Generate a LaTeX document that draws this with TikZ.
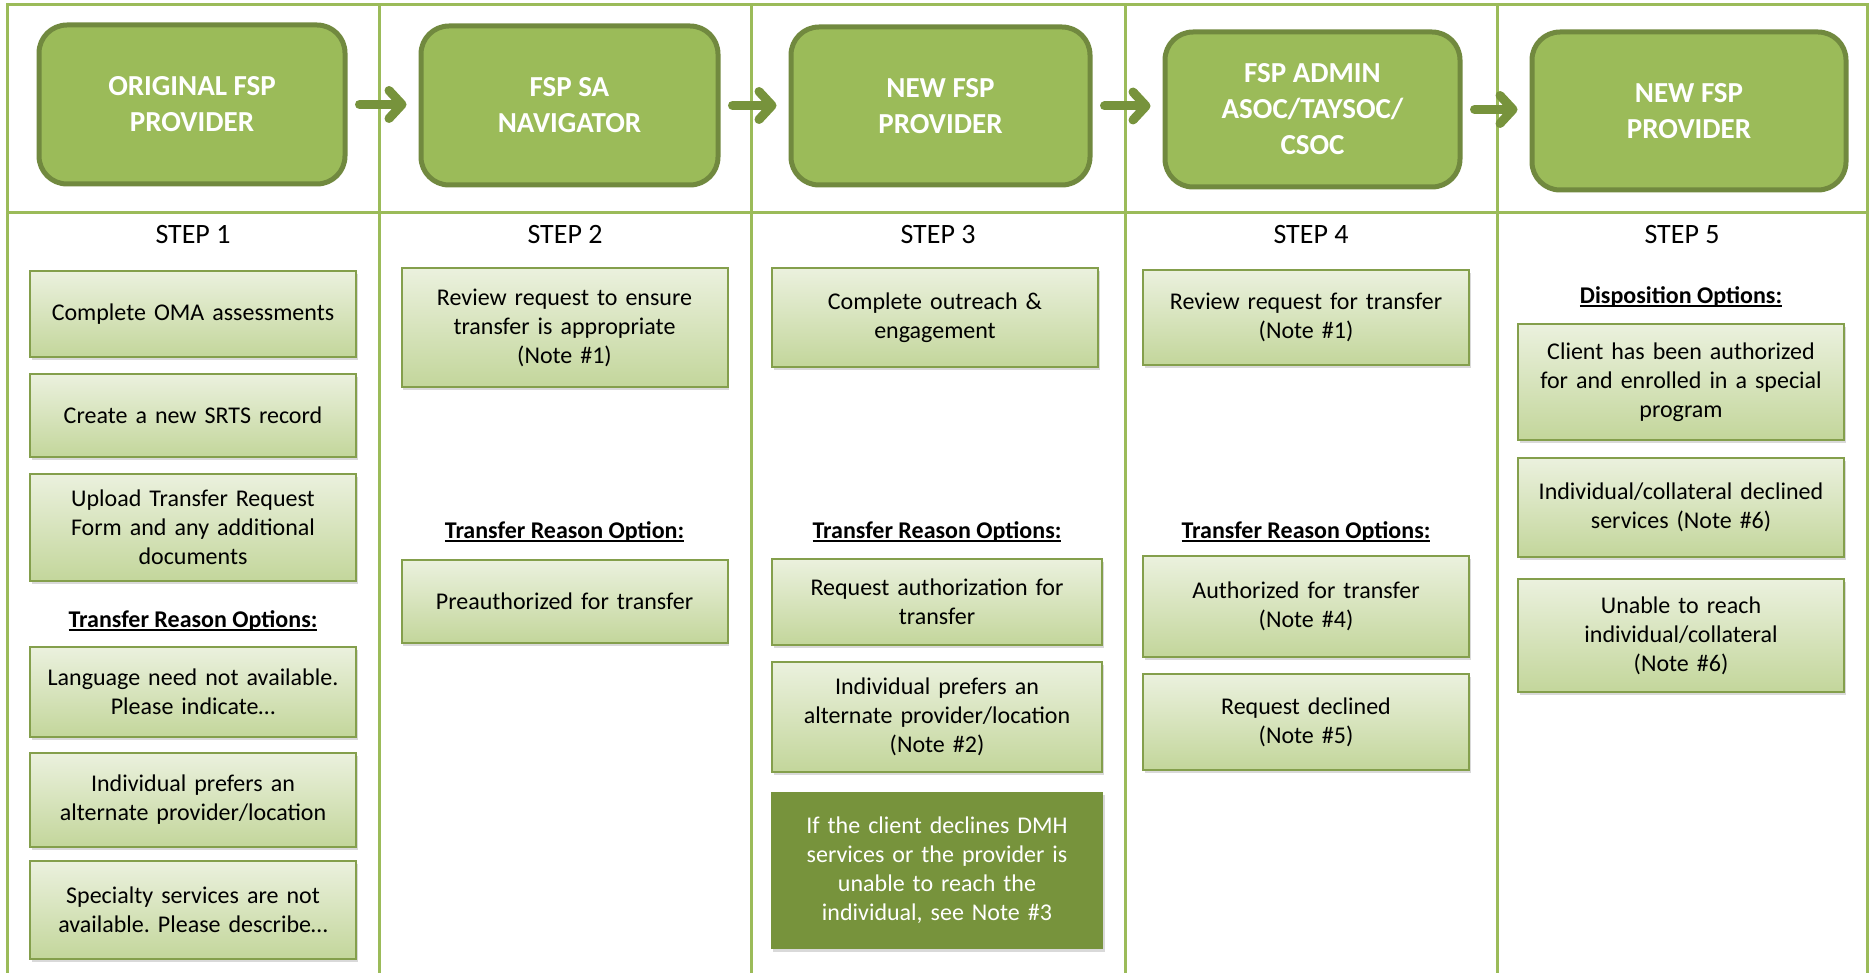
\documentclass[tikz,border=0pt]{standalone}
\usepackage{fontspec}
\setmainfont{Carlito}
\usetikzlibrary{arrows.meta,shadows}
\definecolor{fspgreen}{HTML}{9BBB59}
\definecolor{fspdark}{HTML}{77933C}
\definecolor{fspedge}{HTML}{71893F}
\definecolor{fsppale}{HTML}{EBF1DE}
\definecolor{fsplight}{HTML}{C3D69B}
\newcommand{\optul}[1]{\setbox0\hbox{#1}\rlap{\rule[-1.6pt]{\wd0}{0.8pt}}\box0}
\frenchspacing

\begin{document}
\begin{tikzpicture}[x=0.5pt, y=-0.5pt,
  gridline/.style={draw=fspgreen, line width=1.5pt},
  hdrbox/.style={draw=fspedge, line width=2.5pt, fill=fspgreen, rounded corners=14pt, text=white, align=center, font=\fontsize{14.5}{18}\selectfont\bfseries},
  optbox/.style={draw=fspgreen!85!black, line width=1pt, top color=fsppale, bottom color=fsplight, minimum width=163pt, text width=152pt, align=center, font=\fontsize{12}{14.5}\selectfont, drop shadow={shadow xshift=0.8pt, shadow yshift=-1.5pt, opacity=0.3}},
  notebox/.style={fill=fspdark, text=white, minimum width=166pt, text width=152pt, align=center, font=\fontsize{12}{14.5}\selectfont, drop shadow={shadow xshift=0.8pt, shadow yshift=-1.5pt, opacity=0.3}},
  steplabel/.style={font=\fontsize{14}{16}\selectfont},
  optheading/.style={font=\fontsize{12}{14}\selectfont\bfseries},
  flowarrow/.style={draw=fspdark, line width=4.5pt, line cap=round, -{Straight Barb[length=6.5pt, width=14pt, round]}, shorten <=6pt, shorten >=6pt}]
\useasboundingbox (0,0) rectangle (1870,973);

% table
\draw[gridline] (7,973) -- (7,5) -- (1867,5) -- (1867,973);
\draw[gridline] (7,213) -- (1867,213);
\foreach \x in {379,751,1125,1497}
  \draw[gridline] (\x,5) -- (\x,973);

% header boxes
\node[hdrbox, minimum width=153pt, minimum height=79.5pt] (h1) at (192,104.5) {ORIGINAL FSP\\PROVIDER};
\node[hdrbox, minimum width=148.5pt, minimum height=79.5pt] (h2) at (569.5,105.5) {FSP SA\\NAVIGATOR};
\node[hdrbox, minimum width=149.5pt, minimum height=79pt] (h3) at (940.5,106) {NEW FSP\\PROVIDER};
\node[hdrbox, minimum width=147.5pt, minimum height=77.5pt] (h4) at (1312.5,109.5) {FSP ADMIN\\ASOC/TAYSOC/\\CSOC};
\node[hdrbox, minimum width=157pt, minimum height=79pt] (h5) at (1689,111) {NEW FSP\\PROVIDER};

\draw[flowarrow] (h1.east) -- (h1.east -| h2.west);
\draw[flowarrow] (h2.east) -- (h2.east -| h3.west);
\draw[flowarrow] (h3.east) -- (h3.east -| h4.west);
\draw[flowarrow] (h4.east) -- (h4.east -| h5.west);

% step labels
\node[steplabel] (s1) at (193,235) {STEP 1};
\node[steplabel] (s2) at (565,235) {STEP 2};
\node[steplabel] (s3) at (938,235) {STEP 3};
\node[steplabel] (s4) at (1311,235) {STEP 4};
\node[steplabel] (s5) at (1682,235) {STEP 5};

% step 1
\node[optbox, minimum height=43pt] (a1) at (193,314) {Complete OMA assessments};
\node[optbox, minimum height=41.5pt] (a2) at (193,415.5) {Create a new SRTS record};
\node[optbox, minimum height=53.5pt] (a3) at (193,527.5) {Upload Transfer Request\\Form and any additional\\documents};
\node[optheading] (ra) at (193,621) {\optul{Transfer Reason Options:}};
\node[optbox, minimum height=45pt] (a4) at (193,692) {Language need not available.\\Please indicate\ldots};
\node[optbox, minimum height=47pt] (a5) at (193,800) {Individual prefers an\\alternate provider/location};
\node[optbox, minimum height=49pt] (a6) at (193,910) {Specialty services are not\\available. Please describe\ldots};

% step 2
\node[optbox, minimum height=59.5pt] (b1) at (564.5,327.5) {Review request to ensure\\transfer is appropriate\\(Note \#1)};
\node[optheading] (rb) at (564.5,532) {\optul{Transfer Reason Option:}};
\node[optbox, minimum height=41.5pt] (b2) at (564.5,601.5) {Preauthorized for transfer};

% step 3
\node[optbox, minimum height=49.5pt] (c1) at (935,317.5) {Complete outreach \&\\engagement};
\node[optheading] (rc) at (937,532) {\optul{Transfer Reason Options:}};
\node[optbox, minimum width=165pt, minimum height=43pt] (c2) at (937,602) {Request authorization for\\transfer};
\node[optbox, minimum width=165pt, minimum height=55pt] (c3) at (937,717) {Individual prefers an\\alternate provider/location\\(Note \#2)};
\node[notebox, minimum height=78.5pt] (c4) at (937,870.5) {If the client declines DMH\\services or the provider is\\unable to reach the\\individual, see Note \#3};

% step 4
\node[optbox, minimum height=47.5pt] (d1) at (1306,317.5) {Review request for transfer\\(Note \#1)};
\node[optheading] (rd) at (1306,532) {\optul{Transfer Reason Options:}};
\node[optbox, minimum height=50.5pt] (d2) at (1306,606.5) {Authorized for transfer\\(Note \#4)};
\node[optbox, minimum height=48pt] (d3) at (1306,722) {Request declined\\(Note \#5)};

% step 5
\node[optheading] (re) at (1681,297) {\optul{Disposition Options:}};
\node[optbox, minimum height=58pt] (e1) at (1681,382) {Client has been authorized\\for and enrolled in a special\\program};
\node[optbox, minimum height=49.5pt] (e2) at (1681,507.5) {Individual/collateral declined\\services (Note \#6)};
\node[optbox, minimum height=56.5pt] (e3) at (1681,635.5) {Unable to reach\\individual/collateral\\(Note \#6)};
\end{tikzpicture}
\end{document}
